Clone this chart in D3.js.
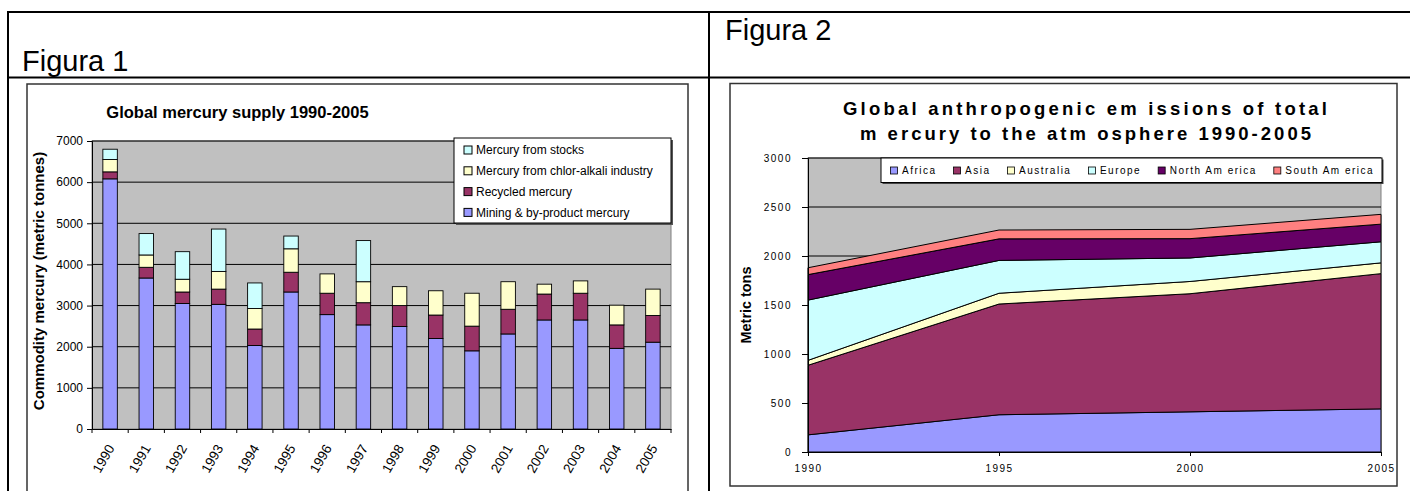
<!DOCTYPE html>
<html><head><meta charset="utf-8">
<script src="https://cdn.jsdelivr.net/npm/d3@7"></script>
<style>
body{margin:0;background:#fff}
svg{display:block;font-family:"Liberation Sans",Arial,Helvetica,sans-serif}
</style>
</head><body>
<svg id="c" width="1410" height="491"></svg>
<script>
// ---------- Figure 1 data (metric tonnes) ----------
const supplyYears = ["1990","1991","1992","1993","1994","1995","1996","1997","1998","1999","2000","2001","2002","2003","2004","2005"];
const miningMercury   = [6080,3670,3050,3030,2030,3330,2780,2530,2490,2200,1900,2310,2650,2650,1960,2110];
const recycledMercury = [170, 260, 280, 370, 400, 480, 520, 540, 510, 570, 600, 600, 630, 650, 570, 650];
const chlorAlkali     = [300, 300, 310, 430, 500, 570, 470, 510, 460, 590, 800, 670, 240, 300, 480, 640];
const stocksMercury   = [250, 520, 670,1030, 620, 310,   0,1000,   0,   0,   0,   0,   0,   0,   0,   0];
const supplySeries = ["Mining & by-product mercury","Recycled mercury","Mercury from chlor-alkali industry","Mercury from stocks"];
const supplyTicks = [0,1000,2000,3000,4000,5000,6000,7000];

// ---------- Figure 2 data (metric tons) ----------
const emissionYears = [1990,1995,2000,2005];
const africa       = [175, 380, 410, 440];
const asia         = [710,1130,1205,1380];
const australia    = [50, 110, 125, 110];
const europe       = [615, 335, 240, 215];
const northAmerica = [260, 220, 197, 180];
const southAmerica = [70,  90,  95, 100];
const regionNames = ["Africa","Asia","Australia","Europe","North Am erica","South Am erica"];
const emissionTicks = [0,500,1000,1500,2000,2500,3000];

const svg = d3.select("#c");

// ---------- table frame ----------
const frame = svg.append("g").attr("stroke","#000").attr("stroke-width",2);
frame.append("line").attr("x1",7).attr("x2",1410).attr("y1",12).attr("y2",12);
frame.append("line").attr("x1",8).attr("x2",8).attr("y1",11).attr("y2",491);
frame.append("line").attr("x1",7).attr("x2",1410).attr("y1",77.5).attr("y2",77.5);
frame.append("line").attr("x1",709).attr("x2",709).attr("y1",11).attr("y2",491);
svg.append("text").attr("x",22).attr("y",71).style("font-size","29px").text("Figura 1");
svg.append("text").attr("x",725).attr("y",40).style("font-size","29px").text("Figura 2");

// chart boxes
svg.append("rect").attr("x",27).attr("y",84).attr("width",661).attr("height",430)
  .attr("fill","#fff").attr("stroke","#333").attr("stroke-width",1.5);
svg.append("rect").attr("x",730).attr("y",83.5).attr("width",667).attr("height",402.5)
  .attr("fill","#fff").attr("stroke","#333").attr("stroke-width",1.5);

// =============== FIGURE 1 ===============
const L = {left:92,right:671,top:141,bottom:429};
const supplyColors = ["#9999ff","#993366","#ffffcc","#ccffff"];
const x1 = d3.scaleBand().domain(supplyYears).range([L.left,L.right]).paddingInner(0.6).paddingOuter(0.3);
const y1 = d3.scaleLinear().domain([0,7000]).range([L.bottom,L.top]);

const g1 = svg.append("g");
g1.append("rect").attr("x",L.left).attr("y",L.top).attr("width",L.right-L.left).attr("height",L.bottom-L.top)
  .attr("fill","#c0c0c0").attr("stroke","#808080");
g1.append("g").selectAll("line").data(supplyTicks.filter(d=>d>0)).join("line")
  .attr("x1",L.left).attr("x2",L.right).attr("y1",d=>y1(d)).attr("y2",d=>y1(d))
  .attr("stroke","#000").attr("stroke-width",1);

const supplyRows = supplyYears.map((y,i)=>({year:y,k0:miningMercury[i],k1:recycledMercury[i],k2:chlorAlkali[i],k3:stocksMercury[i]}));
const stack1 = d3.stack().keys(["k0","k1","k2","k3"])(supplyRows);
g1.append("g").selectAll("g").data(stack1).join("g").attr("fill",(d,i)=>supplyColors[i])
  .selectAll("rect").data(d=>d.filter(s=>s[1]-s[0]>0)).join("rect")
  .attr("x",d=>x1(d.data.year)).attr("width",x1.bandwidth())
  .attr("y",d=>y1(d[1])).attr("height",d=>y1(d[0])-y1(d[1]))
  .attr("stroke","#000").attr("stroke-width",0.9);

// y axis
const ya1 = g1.append("g").attr("transform",`translate(${L.left},0)`)
  .call(d3.axisLeft(y1).tickValues(supplyTicks).tickSize(5).tickPadding(4).tickFormat(d3.format("d")));
ya1.selectAll("text").style("font-size","12px").attr("fill","#000");
ya1.selectAll("line,path").attr("stroke","#000");

// x axis
const xa1 = g1.append("g").attr("transform",`translate(0,${L.bottom})`)
  .call(d3.axisBottom(x1).tickSize(0).tickPadding(0));
xa1.select("path").attr("stroke","#000");
xa1.selectAll(".tick text").style("font-size","13.5px").attr("fill","#000")
  .attr("text-anchor","end").attr("dy",0)
  .attr("transform","translate(5,19) rotate(-60)");
const step = x1.step();
g1.append("g").selectAll("line").data(d3.range(supplyYears.length+1)).join("line")
  .attr("x1",i=>L.left+i*step).attr("x2",i=>L.left+i*step)
  .attr("y1",L.bottom).attr("y2",L.bottom+4).attr("stroke","#000");

// titles
g1.append("text").attr("x",237.5).attr("y",118).attr("text-anchor","middle")
  .style("font-size","16.5px").style("font-weight","bold").text("Global mercury supply 1990-2005");
g1.append("text").attr("transform","translate(44,281) rotate(-90)").attr("text-anchor","middle")
  .style("font-size","15px").style("font-weight","bold").text("Commodity mercury (metric tonnes)");

// legend
const lg1 = g1.append("g");
lg1.append("rect").attr("x",456).attr("y",140).attr("width",217).attr("height",85).attr("fill","#555");
lg1.append("rect").attr("x",454).attr("y",138).attr("width",217).attr("height",85).attr("fill","#fff").attr("stroke","#000");
const legOrder1 = [3,2,1,0];
const le1 = lg1.selectAll("g.e").data(legOrder1).join("g").attr("class","e")
  .attr("transform",(d,i)=>`translate(464,${150+i*20.8})`);
le1.append("rect").attr("x",0).attr("y",-4).attr("width",8).attr("height",8)
  .attr("fill",d=>supplyColors[d]).attr("stroke","#000");
le1.append("text").attr("x",12).attr("dy","0.36em").style("font-size","12px").text(d=>supplySeries[d]);

// =============== FIGURE 2 ===============
const R = {left:808,right:1381,top:158,bottom:452};
const regionColors = ["#9999ff","#993366","#ffffcc","#ccffff","#660066","#ff8080"];
const x2 = d3.scaleLinear().domain([1990,2005]).range([R.left,R.right]);
const y2 = d3.scaleLinear().domain([0,3000]).range([R.bottom,R.top]);
const g2 = svg.append("g");
g2.append("rect").attr("x",R.left).attr("y",R.top).attr("width",R.right-R.left).attr("height",R.bottom-R.top)
  .attr("fill","#c0c0c0").attr("stroke","#808080");
g2.append("g").selectAll("line").data(emissionTicks.filter(d=>d>0)).join("line")
  .attr("x1",R.left).attr("x2",R.right).attr("y1",d=>y2(d)).attr("y2",d=>y2(d))
  .attr("stroke","#000");

const emRows = emissionYears.map((y,i)=>({year:y,r0:africa[i],r1:asia[i],r2:australia[i],r3:europe[i],r4:northAmerica[i],r5:southAmerica[i]}));
const stack2 = d3.stack().keys(["r0","r1","r2","r3","r4","r5"])(emRows);
const area = d3.area().x(d=>x2(d.data.year)).y0(d=>y2(d[0])).y1(d=>y2(d[1]));
g2.append("g").selectAll("path").data(stack2).join("path")
  .attr("d",area).attr("fill",(d,i)=>regionColors[i]).attr("stroke","#000").attr("stroke-width",1)
  .attr("stroke-linejoin","round");

const ya2 = g2.append("g").attr("transform",`translate(${R.left},0)`)
  .call(d3.axisLeft(y2).tickValues(emissionTicks).tickSize(6).tickPadding(10).tickFormat(d3.format("d")));
ya2.selectAll("text").style("font-size","10px").style("letter-spacing","1.5px").attr("fill","#000");
ya2.selectAll("line,path").attr("stroke","#000");
const xa2 = g2.append("g").attr("transform",`translate(0,${R.bottom})`)
  .call(d3.axisBottom(x2).tickValues(emissionYears).tickSize(4).tickPadding(9).tickFormat(d3.format("d")));
xa2.selectAll("text").style("font-size","10px").style("letter-spacing","1.5px").attr("fill","#000");
xa2.selectAll("line,path").attr("stroke","#000");

g2.append("text").attr("x",843).attr("y",114.5).attr("textLength",484).attr("lengthAdjust","spacing")
  .style("font-size","18.5px").style("font-weight","bold").text("Global anthropogenic em issions of total");
g2.append("text").attr("x",860).attr("y",140).attr("textLength",451).attr("lengthAdjust","spacing")
  .style("font-size","18.5px").style("font-weight","bold").text("m ercury to the atm osphere 1990-2005");
g2.append("text").attr("transform","translate(751,305) rotate(-90)").attr("text-anchor","middle")
  .style("font-size","14.4px").style("font-weight","bold").text("Metric tons");

// legend
const lg2 = g2.append("g");
lg2.append("rect").attr("x",882.5).attr("y",159.5).attr("width",501).attr("height",24.5).attr("fill","#444");
lg2.append("rect").attr("x",881).attr("y",158).attr("width",501).attr("height",24.5).attr("fill","#fff").attr("stroke","#000");
let lx = 890.5;
regionNames.forEach((name,i)=>{
  const e = lg2.append("g").attr("transform",`translate(${lx},170.5)`);
  e.append("rect").attr("x",0).attr("y",-3.5).attr("width",7).attr("height",7)
    .attr("fill",regionColors[i]).attr("stroke","#000").attr("stroke-width",0.8);
  const t = e.append("text").attr("x",11.5).attr("dy","0.36em").style("font-size","10px")
    .style("letter-spacing","1.5px").text(name);
  lx += 11.5 + t.node().getComputedTextLength() + 17;
});
</script>
</body></html>
